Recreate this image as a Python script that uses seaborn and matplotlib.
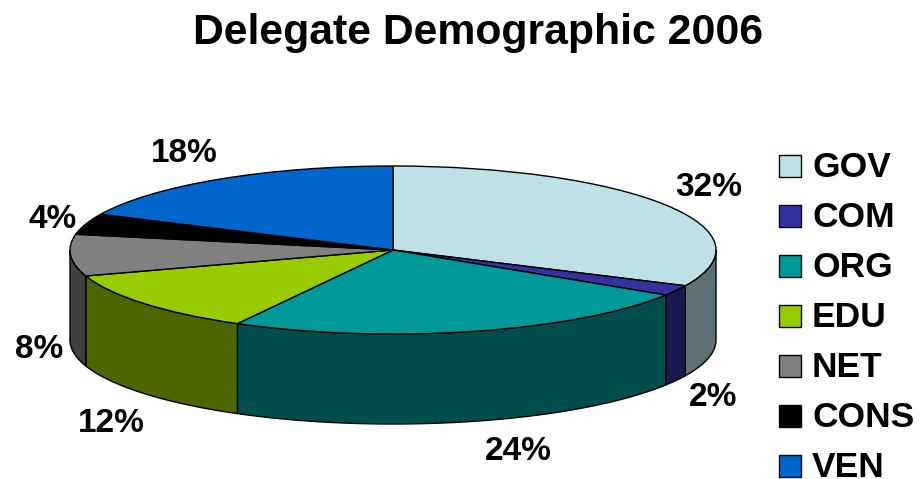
import numpy as np
import matplotlib
matplotlib.use("Agg")
import matplotlib.pyplot as plt
from matplotlib.patches import Polygon, Rectangle
import seaborn as sns

categories = ["GOV", "COM", "ORG", "EDU", "NET", "CONS", "VEN"]
shares = [32, 2, 24, 12, 8, 4, 18]
share_labels = ["32%", "2%", "24%", "12%", "8%", "4%", "18%"]
top_colors = ["#BDE1E5", "#3333A0", "#009999", "#99CC00", "#808080", "#000000", "#0066CC"]
side_colors = ["#5E7073", "#1A1A50", "#004D4D", "#4D6600", "#404040", "#000000", "#003366"]
label_positions_px = [(709, 187), (713, 397), (518, 452), (111, 423), (39, 349), (53, 219), (184, 153)]

sns.set_theme(style="white")
plt.rcParams["font.family"] = ["Liberation Sans", "DejaVu Sans"]
plt.rcParams["font.weight"] = "bold"

W, H = 924, 479
CX, CY, RX, RY, DEPTH = 393, 250, 323, 84, 90

fig = plt.figure(figsize=(W / 100, H / 100), dpi=100)
ax = fig.add_axes([0, 0, 1, 1])
ax.set_axis_off()

# Figure-fraction coordinates from pixel positions
px = lambda x, y: (x / W, 1 - y / H)

wedges, _ = ax.pie(shares, colors=top_colors, startangle=90, counterclock=False,
                   radius=1, wedgeprops=dict(edgecolor="black", linewidth=1.0))
ax.set_aspect("auto")
ax.set_xlim(-CX / RX, (W - CX) / RX)
ax.set_ylim((CY - H) / RY, CY / RY)
for w in wedges:
    w.set_zorder(5)

# Visible rim of the disc: each slice's arc on the near half, extruded downward
depth_units = DEPTH / RY
edges = 90 - np.cumsum([0] + shares) * 3.6
for i, color in enumerate(side_colors):
    hi = min(edges[i], 0)
    lo = max(edges[i + 1], -180)
    if hi <= lo:
        continue
    t = np.radians(np.linspace(hi, lo, 60))
    upper = np.column_stack([np.cos(t), np.sin(t)])
    lower = upper[::-1] - [0, depth_units]
    ax.add_patch(Polygon(np.vstack([upper, lower]), closed=True, facecolor=color,
                         edgecolor="black", linewidth=1.0, zorder=3))

# Percentage labels around the disc
for text, (x, y) in zip(share_labels, label_positions_px):
    ax.text(*px(x, y), text, transform=fig.transFigure, ha="center", va="center",
            fontsize=24, fontweight="bold", color="black", zorder=10)

fig.text(*px(478, 33), "Delegate Demographic 2006", ha="center", va="center",
         fontsize=30.8, fontweight="bold", color="black")

# Legend column
for i, (name, color) in enumerate(zip(categories, top_colors)):
    yc = 166 + i * 50
    fig.add_artist(Rectangle(px(779, yc + 11), 22 / W, 22 / H, transform=fig.transFigure,
                             facecolor=color, edgecolor="black", linewidth=1.0))
    fig.text(*px(812, yc + 11), name, ha="left", va="baseline", fontsize=25.5,
             fontweight="bold", color="black")

fig.savefig("out.png", dpi=100, facecolor="white")
